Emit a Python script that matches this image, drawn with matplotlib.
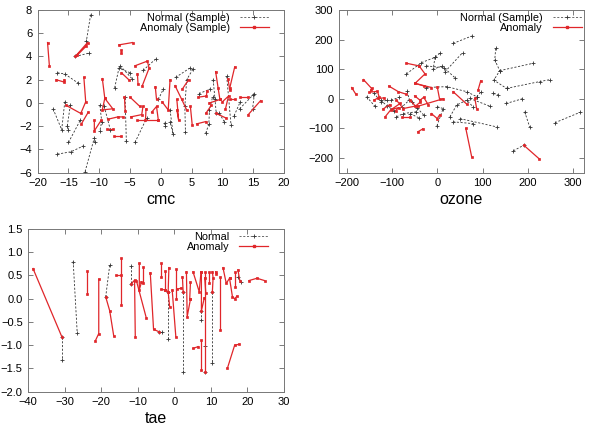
import matplotlib
matplotlib.use("Agg")
import matplotlib.pyplot as plt
from matplotlib.lines import Line2D

plt.rcParams['font.family'] = ['Liberation Sans', 'DejaVu Sans']

# ---- data: each entry is one short trajectory (x list, y list) ----
cmc_normal = [
    ([-12.3, -10.8, -10.7], [-5.9, -3.0, -3.4]),
    ([-11.4, -12.1], [7.6, 5.3]),
    ([-13.9, -11.6], [4.0, 4.3]),
    ([-16.8, -15.6, -13.4], [2.6, 2.5, 1.7]),
    ([-17.5, -16.1, -15.6], [-0.5, -2.3, 0.1]),
    ([-16.8, -14.6, -12.6], [-4.4, -4.2, -3.7]),
    ([-15.0, -13.1], [-3.4, -1.5]),
    ([-14.7, -15.2, -15.0], [-0.2, -2.0, -2.3]),
    ([-9.9, -9.6, -9.9], [-0.2, -1.6, -2.4]),
    ([-7.5, -6.8, -5.0], [1.3, 3.0, 2.6]),
    ([-6.6, -4.7], [3.2, 2.1]),
    ([-5.6, -5.8], [-3.3, 0.5]),
    ([-4.2, -2.3], [-3.4, -1.3]),
    ([-2.9, -0.8], [2.8, 3.8]),
    ([1.5, 2.0, 1.5], [-0.6, -2.7, -1.6]),
    ([0.6, 0.7], [-1.7, -2.0]),
    ([2.4, 4.7], [2.2, 3.0]),
    ([5.2, 4.2, 3.9, 4.0], [2.9, 2.0, -0.3, -2.5]),
    ([7.3, 7.8, 7.9, 8.4], [-2.6, -1.8, -0.6, 0.5]),
    ([8.5, 8.8, 9.0], [2.0, 0.3, -0.9]),
    ([9.5, 10.3], [-0.9, -1.6]),
    ([10.7, 11.4], [2.3, -1.9]),
    ([11.9, 12.9], [-1.1, 0.1]),
    ([12.8, 15.0], [-0.5, 0.7]),
    ([15.2, 14.9], [0.8, -0.5]),
    ([6.2, 8.0], [0.8, 1.2]),
    ([-0.4, 0.4], [0.3, 1.2]),
    ([-9.2, -8.2], [-0.3, -2.3]),
]
cmc_anomaly = [
    ([-18.4, -18.1], [5.2, 3.2]),
    ([-17.0, -15.7, -15.7], [2.0, 1.8, 2.0]),
    ([-13.9, -11.9, -12.1, -13.6], [4.0, 5.2, 4.9, 4.1]),
    ([-12.5, -12.2, -13.0, -15.4], [2.2, 0.1, -0.9, -0.2]),
    ([-11.8, -12.9], [-0.8, -1.8]),
    ([-9.5, -9.1, -9.5, -7.8, -9.1], [2.1, 0.4, -0.6, -0.5, 0.4]),
    ([-10.8, -10.8, -9.7], [-1.5, -2.4, -1.5]),
    ([-8.8, -7.7], [-2.2, -2.2]),
    ([-7.6, -6.4], [-2.8, -2.8]),
    ([-6.8, -4.6], [5.0, 5.2]),
    ([-6.5, -6.5], [4.6, 4.3]),
    ([-6.4, -5.2], [2.6, 2.0]),
    ([-5.9, -5.8], [0.5, -0.7]),
    ([-5.0, -3.4], [0.5, -0.3]),
    ([-4.2, -2.2, -1.9, -3.0], [3.2, 3.6, 3.0, 1.5]),
    ([-3.8, -3.7], [2.5, 1.6]),
    ([-4.9, -3.1, -2.9], [-1.2, -1.0, -0.3]),
    ([-2.5, -2.4], [-1.5, -0.5]),
    ([-1.5, -0.7, -0.4], [-0.8, -0.3, -1.5]),
    ([-0.9, -0.7], [1.4, 0.3]),
    ([-3.9, -0.4], [-1.5, -1.5]),
    ([-8.6, -7.0, -6.2], [-1.4, -1.2, -1.2]),
    ([0.2, 1.2, 1.5], [0.1, -0.6, 2.0]),
    ([2.3, 3.4, 4.2], [1.5, 0.3, -0.6]),
    ([2.6, 2.9, 2.6], [0.3, -1.5, -0.6]),
    ([3.5, 4.5], [1.2, 2.0]),
    ([4.8, 5.1], [-0.3, -1.9]),
    ([5.8, 7.3], [-1.8, -1.6]),
    ([7.3, 8.2], [-0.9, -0.2]),
    ([6.1, 7.4, 7.5], [0.5, 0.6, 1.0]),
    ([8.9, 9.3, 9.6], [2.7, 1.3, 0.3]),
    ([7.9, 9.6], [0.0, 0.3]),
    ([9.0, 10.6], [-0.9, -1.3]),
    ([10.9, 11.2], [2.1, 1.1]),
    ([12.0, 11.2], [3.1, 1.3]),
    ([11.2, 12.1], [0.3, 0.3]),
    ([12.9, 14.2], [0.5, 0.5]),
    ([14.2, 16.2], [-1.0, 0.2]),
    ([10.5, 11.0, 10.0], [-0.5, 0.6, 0.1]),
]

ozone_normal = [
    ([35, 76], [187, 212]),
    ([17, 56], [91, 156]),
    ([-68, -35, -5, 6], [84, 122, 140, 154]),
    ([-5, -9, 10], [140, 100, 110]),
    ([-24, 15, 39], [111, 105, 71]),
    ([-24, 21, 65, 87], [38, 41, 24, 7]),
    ([0, 13, -1], [-27, -33, -93]),
    ([28, 43, 65, 79], [-61, -21, -5, -27]),
    ([35, 79], [-78, -84]),
    ([50, 131], [-67, -95]),
    ([72, 116], [1, -25]),
    ([87, 97], [7, 24]),
    ([124, 135], [18, 12]),
    ([129, 127, 138, 125, 153], [170, 131, 95, 63, 35]),
    ([138, 212], [95, 120]),
    ([153, 226, 250], [35, 58, 65]),
    ([152, 188], [-16, 0]),
    ([193, 204], [-44, -95]),
    ([168, 191], [-176, -157]),
    ([260, 315], [-81, -46]),
    ([-156, -138], [7, -25]),
    ([-125, -110, -95], [-5, -25, -40]),
    ([-90, -75, -46], [-61, -50, -44]),
    ([-60, -40], [-50, -65]),
    ([-66, -62, -78], [25, -5, -28]),
    ([-102, -84], [-5, 5]),
    ([-30, -45, -55], [-55, -30, -10]),
    ([-140, -125, -110], [20, -10, -5]),
]
ozone_anomaly = [
    ([-189, -180], [38, 16]),
    ([-163, -145, -147], [65, 35, 28]),
    ([-150, -132, -128, -140], [22, 25, 5, -5]),
    ([-130, -118], [1, 3]),
    ([-115, -103, -82], [-61, -38, -16]),
    ([-107, -86, -68], [43, 24, 15]),
    ([-90, -75, -49], [-5, -33, -25]),
    ([-68, -40], [120, 111]),
    ([-40, -27, -49, -29], [111, 84, 52, 43]),
    ([-49, -13], [52, 38]),
    ([-60, -48, -38], [-5, -25, -12]),
    ([-42, 13], [-25, 0]),
    ([-50, -38, -30, -20], [10, -5, 5, -20]),
    ([-43, -32], [-112, -102]),
    ([-13, 0, 5], [-50, -67, -55]),
    ([-100, -85, -92], [-35, -30, -40]),
    ([-78, -60], [-62, -62]),
    ([35, 65], [24, -18]),
    ([63, 76], [-100, -196]),
    ([83, 87], [1, -33]),
    ([90, 96], [29, 61]),
    ([191, 225], [-157, -203]),
    ([0, 5], [40, 0]),
    ([-120, -105], [-35, -20]),
]

tae_normal = [
    ([-30.8, -30.8], [-0.82, -1.31]),
    ([-27.7, -26.6], [0.80, -0.73]),
    ([-17.7, -18.8], [0.72, 0.04]),
    ([-11.8, -11.8], [0.70, 0.32]),
    ([-4.2, -3.4], [-0.71, -0.71]),
    ([-1.7, -1.7], [0.15, -0.86]),
    ([2.4, 2.4], [0.15, -1.57]),
    ([7.4, 7.4], [-0.26, -0.46]),
    ([8.5, 8.5], [-1.02, -1.57]),
    ([10.4, 10.4], [0.15, -1.39]),
    ([17.4, 18.3], [0.47, 0.36]),
]
tae_anomaly = [
    ([-38.7, -30.8], [0.65, -0.82]),
    ([-23.8, -23.8], [0.60, 0.10]),
    ([-21.6, -20.7, -20.7], [-0.90, -0.75, 0.42]),
    ([-18.8, -17.7, -16.6], [0.04, -0.26, -0.80]),
    ([-15.9, -14.7], [0.52, 0.52]),
    ([-14.7, -14.7], [0.87, -0.14]),
    ([-11.8, -10.9, -10.7], [0.32, 0.40, -0.82]),
    ([-10.4, -7.7], [0.39, -0.41]),
    ([-9.6, -9.6, -9.0], [0.76, 0.19, 0.36]),
    ([-8.7, -8.7], [0.69, 0.33]),
    ([-6.6, -5.7, -4.2], [0.56, -0.66, -0.71]),
    ([-3.6, -3.6], [0.76, 0.47]),
    ([-3.6, -2.5, -1.7], [0.20, 0.19, 0.15]),
    ([-2.6, -2.6], [0.60, 0.19]),
    ([-1.5, -1.7, -1.3], [0.67, 0.15, -0.17]),
    ([-0.6, 0.4], [0.19, -0.82]),
    ([0.4, 0.4], [0.65, -0.01]),
    ([0.6, 1.9], [0.20, 0.23]),
    ([2.2, 2.4], [0.47, 0.15]),
    ([3.3, 3.5, 4.4], [0.58, -0.39, -0.01]),
    ([4.4, 4.2], [0.35, -0.01]),
    ([5.1, 6.8, 7.3], [0.58, 0.15, 0.58]),
    ([7.4, 7.4, 8.2], [0.58, -0.26, 0.02]),
    ([7.4, 7.4], [-0.89, -1.54]),
    ([8.3, 8.3], [0.58, -1.57]),
    ([8.3, 8.6], [0.45, 0.12]),
    ([5.1, 6.5], [-1.07, -1.03]),
    ([9.5, 9.5], [0.58, 0.33]),
    ([10.4, 10.6, 10.4], [0.58, 0.45, 0.15]),
    ([11.3, 11.5], [0.58, 0.53]),
    ([12.6, 12.6], [0.47, -0.67]),
    ([13.3, 14.2, 15.1], [0.67, 0.33, 0.44]),
    ([15.1, 15.9, 16.5, 17.1], [0.44, 0.04, 0.00, 0.05]),
    ([16.5, 16.5], [0.58, 0.26]),
    ([17.4, 17.9], [0.62, 0.39]),
    ([14.5, 16.5, 17.7], [-1.50, -1.00, -0.98]),
    ([20.4, 22.6, 24.7], [0.39, 0.44, 0.39]),
]

RED = "#e0262a"
BLK = "#333333"

fig = plt.figure(figsize=(6.01, 4.29), dpi=100)
fig.patch.set_facecolor("white")


def draw_panel(rect, normal, anomaly, labels, xlab, xlim, ylim, xticks,
               yticks, leg_x):
    ax = fig.add_axes(rect)
    for xs, ys in normal:
        ax.plot(xs, ys, color=BLK, lw=0.6, ls=(0, (2.5, 2)), marker="+",
                ms=2.5, mew=0.6)
    for xs, ys in anomaly:
        ax.plot(xs, ys, color=RED, lw=0.9, marker="s", ms=1.9, mew=0.5,
                mfc=RED)
    ax.set_xlim(*xlim)
    ax.set_ylim(*ylim)
    ax.set_xticks(xticks)
    ax.set_yticks(yticks)
    ax.tick_params(direction="in", top=True, right=True, length=3.5,
                   width=0.6, color="#666666", labelsize=8, pad=4)
    for s in ax.spines.values():
        s.set_color("#777777")
        s.set_linewidth(0.7)
    ax.set_xlabel(xlab, fontsize=11.5, labelpad=3)
    handles = [
        Line2D([], [], color="#555555", lw=0.6, ls=(0, (2.5, 2)), marker="+",
               ms=2.5, mew=0.6, mec=BLK),
        Line2D([], [], color=RED, lw=0.9, marker="s", ms=1.9, mfc=RED),
    ]
    ax.legend(handles, labels, loc="upper right", frameon=False,
              markerfirst=False, fontsize=7.8, handlelength=2.7,
              handletextpad=0.9, labelspacing=0.0, borderaxespad=0,
              borderpad=0, bbox_to_anchor=(leg_x, 0.983), numpoints=1)
    return ax


draw_panel([0.0627, 0.5974, 0.4098, 0.3793], cmc_normal, cmc_anomaly,
           ["Normal (Sample)", "Anomaly (Sample)"], "cmc",
           (-20, 20), (-6, 8), range(-20, 21, 5), range(-6, 9, 2), 0.939)
draw_panel([0.564, 0.5974, 0.4077, 0.3793], ozone_normal, ozone_anomaly,
           ["Normal (Sample)", "Anomaly"], "ozone",
           (-217, 324), (-250, 300), range(-200, 301, 100),
           range(-200, 301, 100), 0.992)
draw_panel([0.047, 0.087, 0.4255, 0.3792], tae_normal, tae_anomaly,
           ["Normal", "Anomaly"], "tae",
           (-40, 30), (-2, 1.5), range(-40, 31, 10),
           [-2, -1.5, -1, -0.5, 0, 0.5, 1, 1.5], 0.939)

fig.savefig("out.png", dpi=100)
